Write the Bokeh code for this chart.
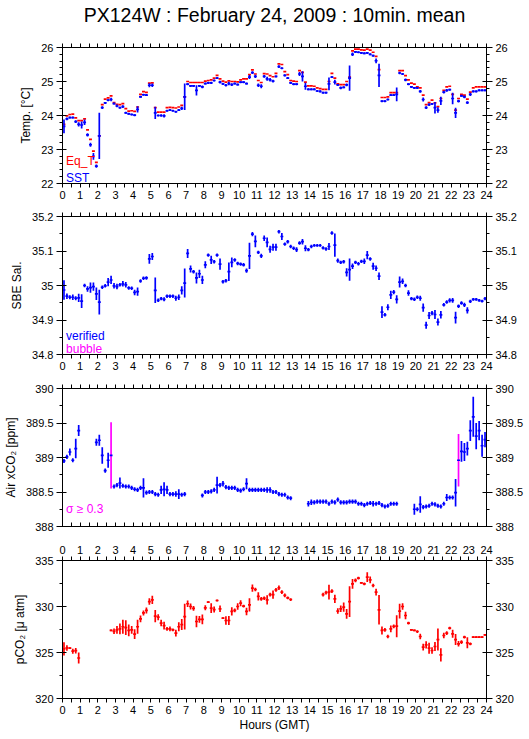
from bokeh.plotting import figure
from bokeh.models import Range1d, LinearAxis, FixedTicker, Label, ColumnDataSource
from bokeh.layouts import column
from bokeh.embed import file_html
from bokeh.resources import INLINE

N = None
TITLE = "PX124W : February 24, 2009 : 10min. mean"

# 10-minute bins (hour, slot) -> bin centre in hours
hours = [h + (j + 0.5) / 6 for h in range(24) for j in range(6)]
x_ticks = list(range(0, 25))
x_minor = [h + 0.5 for h in range(24)]

# ---- Panel 1: temperature ----
sst = [
    23.68, 23.90, 23.94, 23.94, 23.82, 23.74,
    23.72, 23.80, 23.43, 23.14, 22.80, 22.51,
    23.40, 24.23, 24.37, 24.45, 24.47, 24.35,
    24.28, 24.23, 24.26, 24.08, 24.05, 24.03,
    24.01, 24.18, 24.55, 24.61, 24.60, 24.89,
    24.89, 24.08, 24.00, 24.00, 23.99, 24.14,
    24.16, 24.14, 24.11, 24.16, 24.21, 24.55,
    24.92, 24.87, 24.87, 24.74, 24.87, 24.84,
    24.94, 24.96, 24.96, 25.03, 25.10, 24.98,
    24.93, 24.89, 24.94, 24.91, 24.94, 24.91,
    24.98, 24.98, 24.94, 25.13, 25.26, 25.15,
    24.89, 24.86, 25.15, 25.08, 25.05, 25.01,
    25.15, 25.44, 25.39, 25.18, 25.10, 24.96,
    24.92, 24.92, 25.22, 25.15, 24.86, 24.77,
    24.77, 24.77, 24.72, 24.71, 24.67, 24.67,
    24.93, 25.13, 24.98, 24.90, 24.81, 24.83,
    24.90, 25.10, 25.80, 25.87, 25.86, 25.84,
    25.83, 25.84, 25.80, 25.76, 25.61, 25.18,
    24.42, 24.42, 24.47, 24.60, 24.60, 24.62,
    25.25, 25.22, 25.05, 24.92, 24.84, 24.81,
    24.81, 24.71, 24.47, 24.23, 24.32, 24.34,
    24.23, 24.16, 24.43, 24.69, 24.74, 24.76,
    24.50, 24.08, 24.42, 24.58, 24.55, 24.38,
    24.62, 24.71, 24.71, 24.74, 24.74, 24.74,
]
sst_sd = [
    0.20, 0.04, 0.03, 0.03, 0.04, 0.06,
    0.10, 0.08, 0.05, 0.06, 0.10, 0.05,
    0.68, 0.04, 0.03, 0.03, 0.05, 0.03,
    0.04, 0.03, 0.04, 0.03, 0.03, 0.03,
    0.03, 0.09, 0.03, 0.03, 0.03, 0.06,
    0.05, 0.18, 0.03, 0.04, 0.05, 0.03,
    0.03, 0.03, 0.03, 0.03, 0.05, 0.39,
    0.03, 0.03, 0.03, 0.15, 0.03, 0.04,
    0.03, 0.03, 0.03, 0.03, 0.03, 0.04,
    0.03, 0.04, 0.05, 0.04, 0.03, 0.03,
    0.03, 0.03, 0.03, 0.06, 0.04, 0.05,
    0.05, 0.06, 0.04, 0.06, 0.05, 0.04,
    0.03, 0.04, 0.03, 0.03, 0.03, 0.03,
    0.03, 0.03, 0.06, 0.15, 0.10, 0.03,
    0.03, 0.03, 0.03, 0.03, 0.03, 0.03,
    0.19, 0.03, 0.07, 0.03, 0.04, 0.03,
    0.04, 0.37, 0.05, 0.03, 0.03, 0.03,
    0.03, 0.03, 0.03, 0.03, 0.07, 0.34,
    0.03, 0.03, 0.03, 0.03, 0.03, 0.20,
    0.04, 0.03, 0.04, 0.03, 0.03, 0.03,
    0.03, 0.04, 0.06, 0.04, 0.04, 0.03,
    0.17, 0.08, 0.12, 0.04, 0.04, 0.03,
    0.17, 0.15, 0.04, 0.03, 0.04, 0.04,
    0.05, 0.03, 0.03, 0.03, 0.03, 0.03,
]
eq_t = [
    23.74, 23.99, 24.03, 24.04, 23.93, 23.85,
    23.85, 23.90, 23.58, 23.30, 22.95, 22.62,
    23.40, 24.32, 24.48, 24.52, 24.58, 24.38,
    24.33, 24.32, 24.35, 24.20, 24.13, 24.14,
    24.12, 24.25, 24.62, 24.70, 24.68, 24.95,
    24.96, 24.23, 24.10, 24.10, 24.10, 24.23,
    24.24, 24.23, 24.22, 24.25, 24.30, 24.55,
    25.00, 24.97, 24.97, 24.97, 24.97, 24.97,
    25.01, 25.03, 25.05, 25.10, 25.18, 25.08,
    25.01, 24.98, 25.02, 25.00, 25.00, 24.99,
    25.05, 25.08, 25.08, 25.20, 25.34, 25.22,
    25.03, 24.97, 25.23, 25.22, 25.17, 25.14,
    25.24, 25.52, 25.50, 25.29, 25.20, 25.03,
    25.01, 25.00, 25.32, 25.27, 24.98, 24.87,
    24.87, 24.86, 24.81, 24.79, 24.77, 24.77,
    25.00, 25.24, 25.10, 24.93, 24.91, 24.91,
    25.00, 25.13, 25.90, 25.95, 25.95, 25.93,
    25.92, 25.95, 25.92, 25.86, 25.74, 25.35,
    24.53, 24.53, 24.55, 24.67, 24.67, 24.67,
    25.32, 25.32, 25.17, 25.05, 24.95, 24.92,
    24.84, 24.81, 24.60, 24.32, 24.38, 24.45,
    24.37, 24.26, 24.50, 24.74, 24.84, 24.86,
    24.62, 24.16, 24.50, 24.62, 24.60, 24.48,
    24.69, 24.81, 24.84, 24.84, 24.84, 24.84,
]

# ---- Panel 2: salinity ----
sal = [
    34.987, 34.969, 34.966, 34.966, 34.963, 34.964,
    34.955, 35.000, 34.990, 34.994, 34.997, 34.976,
    34.952, 34.995, 34.999, 35.010, 35.016, 34.999,
    34.997, 35.002, 35.005, 35.002, 34.993, 34.992,
    34.980, 34.982, 35.013, 35.021, 35.022, 35.077,
    35.084, 34.986, 34.957, 34.962, 34.960, 34.969,
    34.969, 34.969, 34.963, 34.966, 34.986, 35.007,
    35.093, 35.048, 35.040, 35.022, 35.034, 35.016,
    35.060, 35.088, 35.074, 35.069, 35.088, 35.062,
    35.011, 35.014, 35.040, 35.067, 35.074, 35.064,
    35.062, 35.060, 35.043, 35.086, 35.149, 35.128,
    35.096, 35.086, 35.137, 35.125, 35.105, 35.111,
    35.111, 35.156, 35.142, 35.120, 35.127, 35.113,
    35.108, 35.104, 35.123, 35.127, 35.108, 35.104,
    35.113, 35.116, 35.116, 35.116, 35.109, 35.106,
    35.113, 35.152, 35.117, 35.072, 35.067, 35.069,
    35.038, 35.046, 35.056, 35.067, 35.063, 35.070,
    35.070, 35.088, 35.077, 35.056, 35.050, 35.027,
    34.923, 34.915, 34.937, 34.973, 34.981, 34.960,
    35.010, 35.012, 35.000, 34.978, 34.962, 34.960,
    34.966, 34.963, 34.936, 34.885, 34.913, 34.920,
    34.916, 34.894, 34.915, 34.944, 34.952, 34.957,
    34.957, 34.907, 34.940, 34.949, 34.944, 34.928,
    34.954, 34.960, 34.960, 34.957, 34.955, 34.962,
]
sal_sd = [
    0.028, 0.008, 0.006, 0.008, 0.006, 0.012,
    0.020, 0.005, 0.008, 0.015, 0.012, 0.018,
    0.036, 0.005, 0.005, 0.012, 0.012, 0.008,
    0.008, 0.005, 0.008, 0.008, 0.005, 0.005,
    0.008, 0.012, 0.005, 0.005, 0.005, 0.014,
    0.010, 0.037, 0.005, 0.005, 0.006, 0.005,
    0.005, 0.005, 0.007, 0.008, 0.012, 0.042,
    0.013, 0.010, 0.005, 0.016, 0.012, 0.012,
    0.010, 0.005, 0.012, 0.005, 0.005, 0.016,
    0.005, 0.005, 0.027, 0.014, 0.005, 0.005,
    0.005, 0.005, 0.006, 0.038, 0.006, 0.017,
    0.005, 0.006, 0.008, 0.014, 0.010, 0.010,
    0.010, 0.005, 0.010, 0.005, 0.005, 0.005,
    0.005, 0.007, 0.005, 0.008, 0.009, 0.005,
    0.005, 0.004, 0.004, 0.004, 0.005, 0.005,
    0.010, 0.005, 0.034, 0.006, 0.005, 0.005,
    0.012, 0.032, 0.008, 0.005, 0.005, 0.005,
    0.008, 0.012, 0.005, 0.010, 0.008, 0.011,
    0.017, 0.005, 0.009, 0.012, 0.006, 0.012,
    0.016, 0.008, 0.005, 0.008, 0.005, 0.005,
    0.005, 0.007, 0.012, 0.010, 0.010, 0.006,
    0.013, 0.010, 0.011, 0.005, 0.005, 0.006,
    0.007, 0.017, 0.005, 0.005, 0.006, 0.009,
    0.005, 0.004, 0.004, 0.004, 0.004, 0.005,
]

# ---- Panel 3: air xCO2 ----
xco2 = [
    388.95, 389.01, 389.08, 388.96, 389.13, 389.39,
    N, N, N, N, N, 389.22,
    389.25, 389.03, 388.81, 388.96, 389.03, 388.58,
    388.60, 388.63, 388.59, 388.58, 388.58, 388.56,
    388.54, 388.53, 388.56, 388.56, 388.49, 388.50,
    388.50, 388.47, 388.46, 388.53, 388.54, 388.53,
    388.47, 388.47, 388.47, 388.47, 388.46, 388.47,
    N, N, N, N, N, 388.45,
    388.50, 388.50, 388.51, 388.53, 388.60, 388.60,
    388.62, 388.57, 388.56, 388.56, 388.56, 388.53,
    388.52, 388.54, 388.62, 388.53, 388.53, 388.53,
    388.53, 388.53, 388.53, 388.53, 388.53, 388.50,
    388.50, 388.47, 388.46, 388.46, 388.42, 388.41,
    N, N, N, N, N, 388.33,
    388.35, 388.35, 388.36, 388.36, 388.36, 388.36,
    388.33, 388.36, 388.35, 388.39, 388.35, 388.35,
    388.35, 388.36, 388.36, 388.36, 388.33, 388.33,
    388.31, 388.33, 388.34, 388.33, 388.33, 388.34,
    388.31, 388.29, 388.30, 388.33, 388.33, 388.33,
    N, N, N, N, N, 388.25,
    388.25, 388.32, 388.28, 388.29, 388.30, 388.33,
    388.32, 388.30, 388.29, 388.33, 388.42, 388.42,
    388.42, 388.49, 388.96, 389.09, 389.08, 389.13,
    389.39, 389.59, 389.31, 389.39, 389.17, 389.26,
]
xco2_sd = [
    0.03, 0.03, 0.05, 0.03, 0.14, 0.08,
    N, N, N, N, N, 0.05,
    0.08, 0.12, 0.03, 0.11, 0.48, 0.03,
    0.03, 0.08, 0.03, 0.03, 0.03, 0.03,
    0.03, 0.03, 0.03, 0.14, 0.03, 0.03,
    0.03, 0.03, 0.03, 0.06, 0.10, 0.06,
    0.03, 0.03, 0.04, 0.07, 0.03, 0.03,
    N, N, N, N, N, 0.03,
    0.03, 0.03, 0.03, 0.03, 0.12, 0.03,
    0.04, 0.03, 0.03, 0.03, 0.03, 0.03,
    0.03, 0.03, 0.08, 0.03, 0.03, 0.03,
    0.03, 0.03, 0.03, 0.04, 0.04, 0.03,
    0.03, 0.03, 0.03, 0.03, 0.03, 0.03,
    N, N, N, N, N, 0.04,
    0.04, 0.03, 0.03, 0.03, 0.03, 0.03,
    0.03, 0.03, 0.03, 0.03, 0.03, 0.03,
    0.03, 0.03, 0.03, 0.03, 0.03, 0.03,
    0.03, 0.03, 0.03, 0.04, 0.03, 0.03,
    0.03, 0.03, 0.03, 0.03, 0.03, 0.03,
    N, N, N, N, N, 0.08,
    0.03, 0.12, 0.03, 0.03, 0.03, 0.03,
    0.03, 0.03, 0.03, 0.03, 0.05, 0.03,
    0.03, 0.20, 0.38, 0.15, 0.13, 0.10,
    0.15, 0.29, 0.19, 0.14, 0.16, 0.11,
]
SIGMA_LIMIT = 0.3

# ---- Panel 4: pCO2 ----
pco2 = [
    325.40, 325.50, 325.47, 325.14, 325.20, 324.40,
    N, N, N, N, N, N,
    N, N, N, N, 327.40, 327.30,
    327.46, 327.57, 327.80, 327.70, 327.40, 327.46,
    327.00, 327.80, 328.66, 329.30, 329.57, 330.54,
    330.72, 328.95, 328.84, 328.20, 327.93, 327.57,
    327.57, 327.46, 327.10, 327.80, 328.04, 328.90,
    330.30, 330.00, 329.80, 328.37, 328.60, 328.60,
    329.86, 330.47, 329.82, 329.67, 330.65, 329.75,
    328.73, 328.48, 328.48, 329.46, 329.57, 330.00,
    330.36, 330.04, 329.46, 330.18, 332.00, 331.85,
    331.10, 330.83, 330.90, 330.72, 331.30, 331.30,
    331.80, 332.03, 331.56, 331.20, 330.94, 330.76,
    N, N, N, N, N, N,
    N, N, N, N, 331.30, 331.50,
    331.56, 331.67, 330.83, 329.50, 329.75, 329.93,
    329.20, 330.54, 332.46, 332.83, 333.08, 332.57,
    332.46, 333.19, 332.90, 332.28, 331.56, 329.64,
    327.40, 327.46, 326.74, 327.57, 327.83, 327.86,
    329.50, 330.00, 329.02, 328.20, 327.46, 327.40,
    327.28, 326.74, 325.58, 325.83, 325.47, 325.22,
    325.65, 326.41, 324.75, 326.85, 327.10, 327.64,
    327.03, 326.41, 325.94, 326.12, 326.67, 326.05,
    325.94, 326.67, 326.67, 326.67, 326.67, 326.92,
]
pco2_sd = [
    0.72, 0.30, 0.10, 0.27, 0.30, 0.60,
    N, N, N, N, N, N,
    N, N, N, N, 0.10, 0.30,
    0.43, 0.58, 0.76, 0.80, 0.63, 0.43,
    0.54, 0.76, 0.36, 0.27, 0.33, 0.36,
    0.45, 0.67, 0.33, 0.36, 0.42, 0.20,
    0.25, 0.15, 0.36, 0.50, 0.60, 1.40,
    0.36, 0.33, 0.25, 0.63, 0.36, 0.54,
    0.27, 0.10, 0.54, 0.33, 0.10, 0.36,
    0.10, 0.47, 0.50, 0.45, 0.20, 0.36,
    0.33, 0.15, 0.40, 0.72, 0.40, 0.20,
    0.45, 0.20, 0.20, 0.50, 0.20, 0.45,
    0.20, 0.25, 0.20, 0.20, 0.15, 0.15,
    N, N, N, N, N, N,
    N, N, N, N, 0.20, 0.20,
    0.80, 0.20, 0.45, 0.30, 0.36, 0.50,
    0.54, 1.67, 0.54, 0.20, 0.15, 0.10,
    0.15, 0.54, 0.36, 0.20, 0.36, 1.60,
    0.43, 0.20, 0.20, 0.36, 0.20, 1.20,
    0.80, 0.36, 0.40, 0.15, 0.10, 0.10,
    0.15, 0.30, 0.36, 0.40, 0.60, 0.36,
    0.50, 1.20, 0.72, 0.30, 0.20, 0.15,
    0.43, 0.60, 0.30, 0.20, 0.15, 0.60,
    0.15, 0.10, 0.10, 0.10, 0.10, 0.10,
]

# axis ticks / labels
temp_ticks = [22, 23, 24, 25, 26]
temp_labels = ["22", "23", "24", "25", "26"]
sal_ticks = [34.8, 34.9, 35, 35.1, 35.2]
sal_labels = ["34.8", "34.9", "35", "35.1", "35.2"]
xco2_ticks = [388, 388.5, 389, 389.5, 390]
xco2_labels = ["388", "388.5", "389", "389.5", "390"]
pco2_ticks = [320, 325, 330, 335]
pco2_labels = ["320", "325", "330", "335"]

BLUE = "#0000ff"
RED = "#ff0000"
MAGENTA = "#ff00ff"
FONT = "Liberation Sans"
W = 529
FH = 138
L, R = 58, 43
SLOT = 1.0 / 6
LW = 1.7


def minor_list(lo, hi, step):
    out, v = [], lo
    while v < hi - 1e-9:
        out.append(round(v, 6))
        v += step
    return out


def style_x(ax, labels):
    ax.ticker = FixedTicker(ticks=x_ticks, minor_ticks=x_minor)
    ax.major_tick_in = 0
    ax.major_tick_out = 4
    ax.minor_tick_in = 0
    ax.minor_tick_out = 4
    ax.axis_line_color = "black"
    ax.major_tick_line_color = "black"
    ax.minor_tick_line_color = "black"
    ax.major_label_text_font = FONT
    ax.major_label_standoff = 3
    if labels:
        ax.major_label_text_font_size = "11px"
        ax.major_label_text_color = "black"
    else:
        ax.major_label_text_font_size = "1px"
        ax.major_label_text_color = None


def style_y(ax, ticks, labels, minor):
    ax.ticker = FixedTicker(ticks=ticks, minor_ticks=minor)
    ax.major_label_overrides = {t: s for t, s in zip(ticks, labels)}
    ax.major_tick_in = 4
    ax.major_tick_out = 6
    ax.minor_tick_in = 0
    ax.minor_tick_out = 3
    ax.axis_line_color = "black"
    ax.major_tick_line_color = "black"
    ax.minor_tick_line_color = "black"
    ax.major_label_text_font = FONT
    ax.major_label_text_font_size = "11px"
    ax.major_label_text_color = "black"
    ax.major_label_standoff = 3
    ax.axis_label_text_font = FONT
    ax.axis_label_text_font_size = "12px"
    ax.axis_label_text_font_style = "normal"
    ax.axis_label_text_color = "black"
    ax.axis_label_standoff = 5


def make_fig(yr, ticks, labels, minor, ylabel, top, bottom,
             top_labels, bottom_labels, title=None, xlabel=None, bottom_in=False):
    p = figure(width=W, height=top + FH + bottom,
               x_range=Range1d(0, 24), y_range=Range1d(*yr),
               output_backend="svg", toolbar_location=None,
               x_axis_location=None, y_axis_location=None,
               min_border_left=L, min_border_right=R,
               min_border_top=top, min_border_bottom=bottom,
               background_fill_color="white", border_fill_color="white")
    for g in p.grid:
        g.visible = False
    p.outline_line_color = "black"
    p.outline_line_width = 1

    ax_top = LinearAxis()
    style_x(ax_top, top_labels)
    if title:
        # chart title carried by the top axis of the first panel
        ax_top.axis_label = title
        ax_top.axis_label_text_font = FONT
        ax_top.axis_label_text_font_size = "19.5px"
        ax_top.axis_label_text_font_style = "normal"
        ax_top.axis_label_text_color = "black"
        ax_top.axis_label_standoff = 18
    p.add_layout(ax_top, "above")
    ax_bot = LinearAxis()
    style_x(ax_bot, bottom_labels)
    if bottom_in:
        ax_bot.major_tick_in = 4
        ax_bot.major_tick_out = 0
        ax_bot.minor_tick_in = 4
        ax_bot.minor_tick_out = 0
    if xlabel:
        ax_bot.axis_label = xlabel
        ax_bot.axis_label_text_font = FONT
        ax_bot.axis_label_text_font_size = "12px"
        ax_bot.axis_label_text_font_style = "normal"
        ax_bot.axis_label_text_color = "black"
        ax_bot.axis_label_standoff = 1
    p.add_layout(ax_bot, "below")

    ax_l = LinearAxis(axis_label=ylabel)
    style_y(ax_l, ticks, labels, minor)
    p.add_layout(ax_l, "left")
    ax_r = LinearAxis()
    style_y(ax_r, ticks, labels, minor)
    p.add_layout(ax_r, "right")
    return p


def draw(p, vals, sds, hcolor, vcolor_fn=None, with_bars=True):
    xs, ys, lo, hi, x0, x1, vc = [], [], [], [], [], [], []
    for t, v, s in zip(hours, vals, sds):
        if v is None:
            continue
        xs.append(t)
        ys.append(v)
        lo.append(v - s)
        hi.append(v + s)
        x0.append(t - SLOT / 2)
        x1.append(t + SLOT / 2)
        vc.append(vcolor_fn(s) if vcolor_fn else hcolor)
    src = ColumnDataSource(dict(x=xs, y=ys, lo=lo, hi=hi, x0=x0, x1=x1, vc=vc))
    if with_bars:
        p.segment(x0="x", y0="lo", x1="x", y1="hi", source=src,
                  line_color="vc", line_width=LW)
    p.segment(x0="x0", y0="y", x1="x1", y1="y", source=src,
              line_color=hcolor, line_width=LW)


def add_text(p, x, y, text, color):
    p.add_layout(Label(x=x, y=y, text=text, text_color=color,
                       text_font=FONT, text_font_size="12px",
                       text_baseline="alphabetic", text_align="left"))


# Panel 1
p1 = make_fig((22, 26), temp_ticks, temp_labels, minor_list(22, 26, 0.2),
              "Temp. [°C]", 45, 22, False, True, title=TITLE)
draw(p1, eq_t, [0.0] * len(eq_t), RED, with_bars=False)
draw(p1, sst, sst_sd, BLUE)
add_text(p1, 0.2, 22.65, "Eq_T", RED)
add_text(p1, 0.2, 22.17, "SST", BLUE)

# Panel 2
p2 = make_fig((34.8, 35.2), sal_ticks, sal_labels, minor_list(34.8, 35.2, 0.05),
              "SBE Sal.", 11, 22, False, True)
draw(p2, sal, sal_sd, BLUE)
add_text(p2, 0.2, 34.855, "verified", BLUE)
add_text(p2, 0.2, 34.815, "bubble", MAGENTA)

# Panel 3
p3 = make_fig((388, 390), xco2_ticks, xco2_labels, minor_list(388, 390, 0.25),
              "Air xCO₂ [ppm]", 12, 12, False, False, bottom_in=True)
draw(p3, xco2, xco2_sd, BLUE,
     vcolor_fn=lambda s: MAGENTA if s >= SIGMA_LIMIT else BLUE)
add_text(p3, 0.2, 388.26, "σ ≥ 0.3", MAGENTA)

# Panel 4
p4 = make_fig((320, 335), pco2_ticks, pco2_labels, minor_list(320, 335, 2.5),
              "pCO₂ [μ atm]", 22, 40, True, True, xlabel="Hours (GMT)")
draw(p4, pco2, pco2_sd, RED)

layout = column(p1, p2, p3, p4, spacing=0)
open("out.html", "w").write(file_html(layout, INLINE))
